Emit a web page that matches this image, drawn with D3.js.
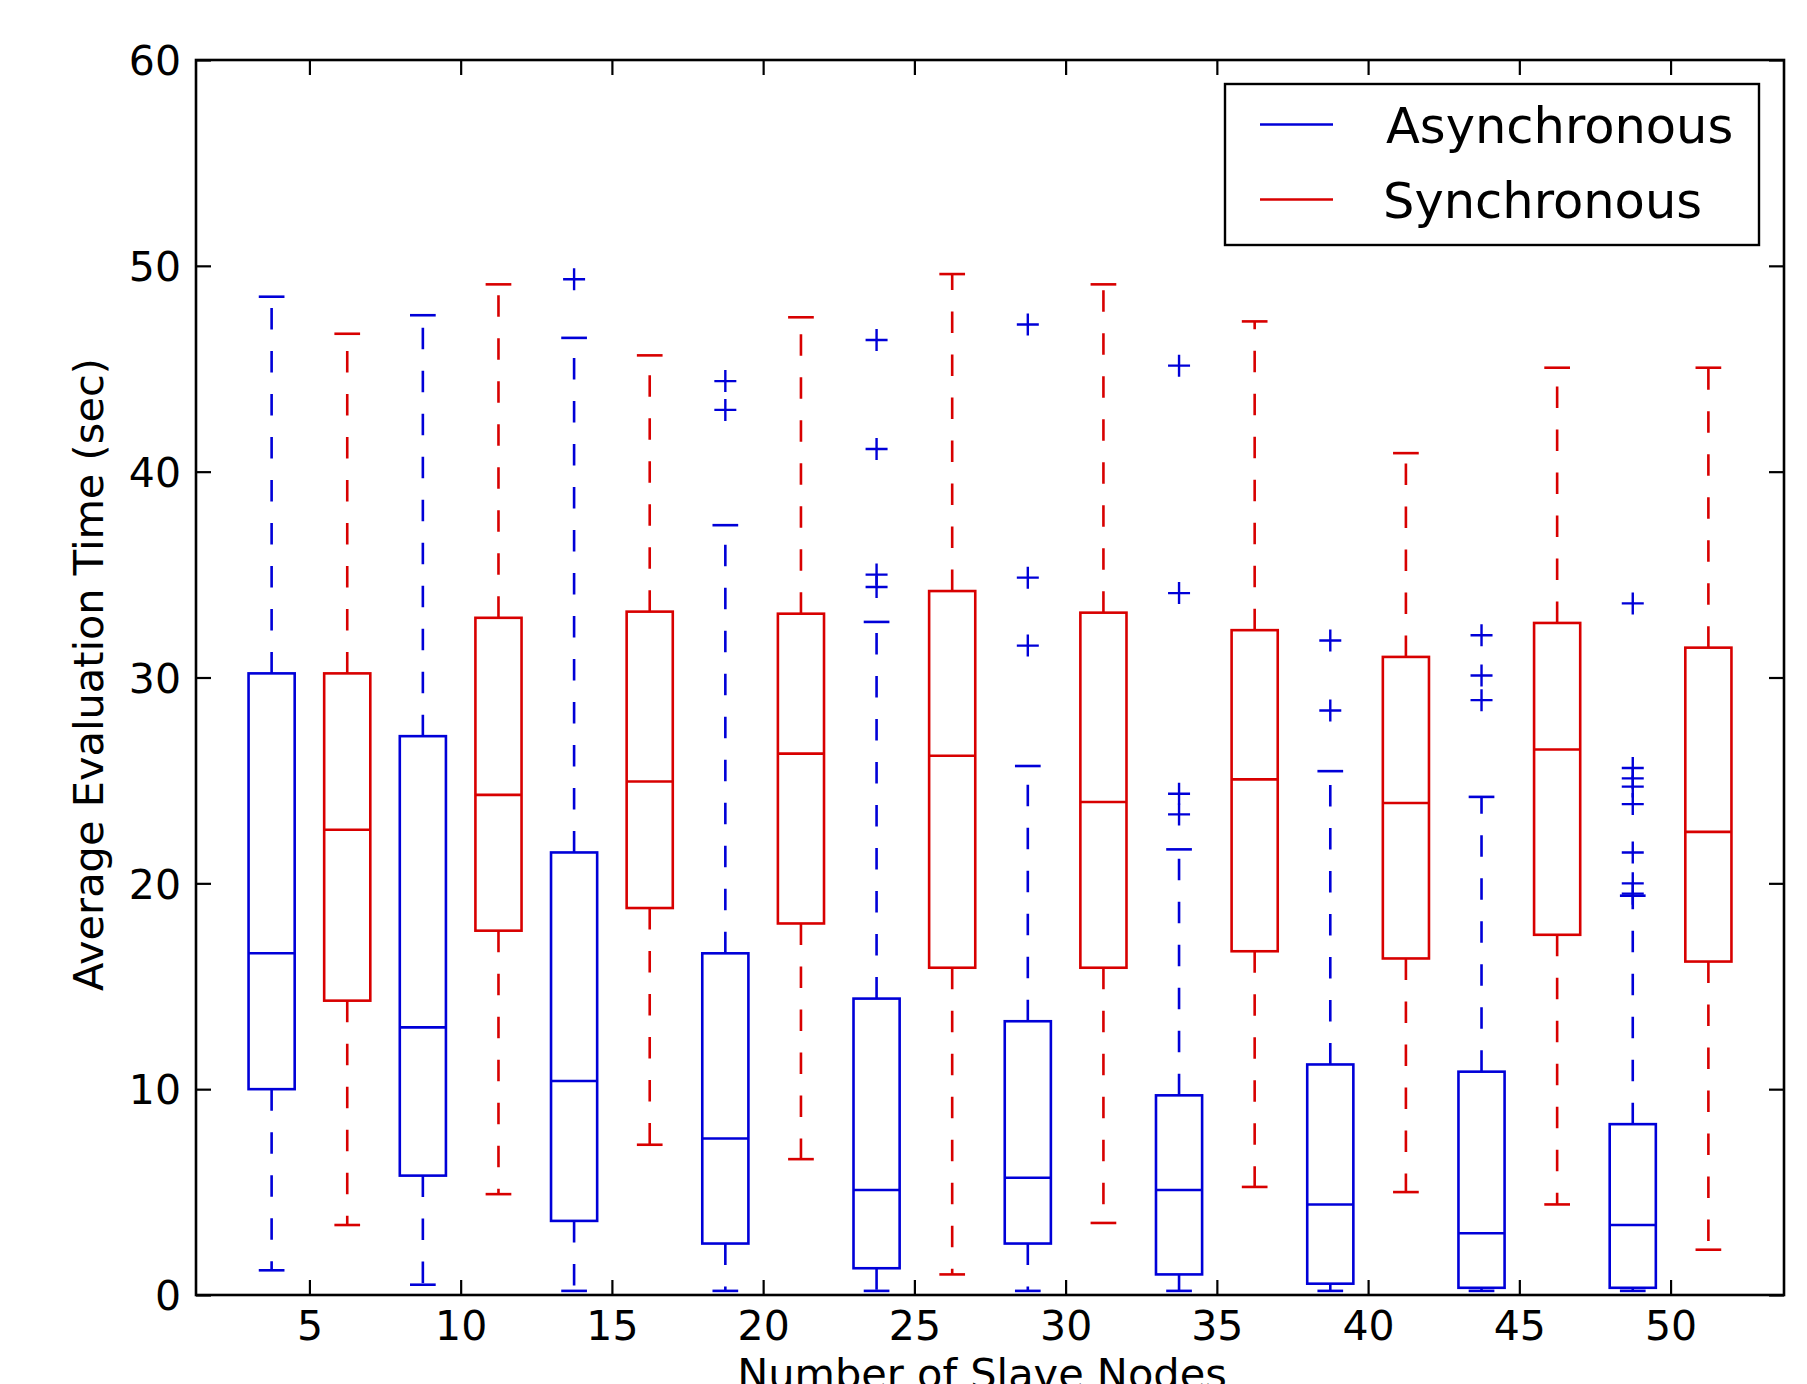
<!DOCTYPE html>
<html>
<head>
<meta charset="utf-8">
<script src="https://cdn.jsdelivr.net/npm/d3@7"></script>
<style>
  html, body { margin: 0; padding: 0; background: #ffffff; }
  svg { display: block; }
  text { font-family: "DejaVu Sans", sans-serif; fill: #000; }
</style>
</head>
<body>
<svg id="chart" width="1807" height="1384"></svg>
<script>
// ---------------- data ----------------
const nodes = [5, 10, 15, 20, 25, 30, 35, 40, 45, 50];
const yTicks = [0, 10, 20, 30, 40, 50, 60];
const seriesNames = ["Asynchronous", "Synchronous"];

const asyncLow  = [1.2, 0.5, 0.2, 0.2, 0.2, 0.2, 0.2, 0.2, 0.2, 0.2];
const asyncQ1   = [10.0, 5.8, 3.6, 2.5, 1.3, 2.5, 1.0, 0.55, 0.35, 0.35];
const asyncMed  = [16.6, 13.0, 10.4, 7.6, 5.1, 5.7, 5.1, 4.4, 3.0, 3.4];
const asyncQ3   = [30.2, 27.15, 21.5, 16.6, 14.4, 13.3, 9.7, 11.2, 10.85, 8.3];
const asyncHigh = [48.5, 47.6, 46.5, 37.4, 32.7, 25.7, 21.65, 25.45, 24.2, 19.4];
const asyncOut  = [
  [], [], [49.35], [44.4, 43.0], [46.4, 41.1, 35.0, 34.4],
  [47.15, 34.85, 31.55], [45.15, 34.1, 24.35, 23.35], [31.8, 28.4],
  [32.05, 30.1, 28.9], [33.6, 25.6, 25.1, 24.7, 23.85, 21.5, 20.0, 19.5]
];

const syncLow  = [3.4, 4.9, 7.3, 6.6, 1.0, 3.5, 5.25, 5.0, 4.4, 2.2];
const syncQ1   = [14.3, 17.7, 18.8, 18.05, 15.9, 15.9, 16.7, 16.35, 17.5, 16.2];
const syncMed  = [22.6, 24.3, 24.95, 26.3, 26.2, 23.95, 25.05, 23.9, 26.5, 22.5];
const syncQ3   = [30.2, 32.9, 33.2, 33.1, 34.2, 33.15, 32.3, 31.0, 32.65, 31.45];
const syncHigh = [46.7, 49.1, 45.65, 47.5, 49.6, 49.1, 47.3, 40.9, 45.05, 45.05];
const syncOut  = [[], [], [], [], [], [], [], [], [], []];

// ---------------- layout ----------------
const plot = { left: 196, right: 1784, top: 60, bottom: 1295 };
const BLUE = "#0000d8", RED = "#d80000";
const lw = 2.6;
const boxW = 0.61, capW = 0.34;
const fontTick = 41, fontLabel = 41.5, fontLegend = 49.5;

const svg = d3.select("#chart");

const x = d3.scaleLinear().domain([0, 21]).range([plot.left, plot.right]);
const y = d3.scaleLinear().domain([0, 60]).range([plot.bottom, plot.top]);

// build box records
const boxes = [];
nodes.forEach((n, i) => {
  boxes.push({ pos: 2 * i + 1, color: BLUE, lo: asyncLow[i], q1: asyncQ1[i], med: asyncMed[i], q3: asyncQ3[i], hi: asyncHigh[i], out: asyncOut[i] });
  boxes.push({ pos: 2 * i + 2, color: RED, lo: syncLow[i], q1: syncQ1[i], med: syncMed[i], q3: syncQ3[i], hi: syncHigh[i], out: syncOut[i] });
});

const g = svg.append("g");
const bg = g.selectAll("g.box").data(boxes).enter().append("g").attr("class", "box");

// whiskers (dashed, starting at box edge)
bg.append("line")
  .attr("x1", d => x(d.pos)).attr("x2", d => x(d.pos))
  .attr("y1", d => y(d.q3)).attr("y2", d => y(d.hi))
  .attr("stroke", d => d.color).attr("stroke-width", lw)
  .attr("stroke-dasharray", "21.5,21.5");
bg.append("line")
  .attr("x1", d => x(d.pos)).attr("x2", d => x(d.pos))
  .attr("y1", d => y(d.q1)).attr("y2", d => y(d.lo))
  .attr("stroke", d => d.color).attr("stroke-width", lw)
  .attr("stroke-dasharray", "21.5,21.5");
// caps
bg.append("line")
  .attr("x1", d => x(d.pos - capW / 2)).attr("x2", d => x(d.pos + capW / 2))
  .attr("y1", d => y(d.hi)).attr("y2", d => y(d.hi))
  .attr("stroke", d => d.color).attr("stroke-width", lw);
bg.append("line")
  .attr("x1", d => x(d.pos - capW / 2)).attr("x2", d => x(d.pos + capW / 2))
  .attr("y1", d => y(d.lo)).attr("y2", d => y(d.lo))
  .attr("stroke", d => d.color).attr("stroke-width", lw);
// box
bg.append("rect")
  .attr("x", d => x(d.pos - boxW / 2))
  .attr("width", d => x(d.pos + boxW / 2) - x(d.pos - boxW / 2))
  .attr("y", d => y(d.q3))
  .attr("height", d => y(d.q1) - y(d.q3))
  .attr("fill", "none").attr("stroke", d => d.color).attr("stroke-width", lw);
// median
bg.append("line")
  .attr("x1", d => x(d.pos - boxW / 2)).attr("x2", d => x(d.pos + boxW / 2))
  .attr("y1", d => y(d.med)).attr("y2", d => y(d.med))
  .attr("stroke", d => d.color).attr("stroke-width", lw);
// outliers "+"
const ms = 11;
bg.each(function (d) {
  d3.select(this).selectAll("path.flier").data(d.out).enter().append("path")
    .attr("class", "flier")
    .attr("d", v => `M${x(d.pos) - ms},${y(v)}H${x(d.pos) + ms}M${x(d.pos)},${y(v) - ms}V${y(v) + ms}`)
    .attr("stroke", d.color).attr("stroke-width", 2.4).attr("fill", "none");
});

// ---------------- axes ----------------
const tickLen = 15;
const xTickPos = nodes.map((n, i) => 2 * i + 1.5);

const xAxisBottom = d3.axisBottom(x).tickValues(xTickPos)
  .tickFormat((d, i) => nodes[i]).tickSizeInner(-tickLen).tickSizeOuter(0).tickPadding(29);
const gxb = svg.append("g").attr("transform", `translate(0,${plot.bottom})`).call(xAxisBottom);
const xAxisTop = d3.axisTop(x).tickValues(xTickPos).tickFormat("").tickSizeInner(-tickLen).tickSizeOuter(0);
const gxt = svg.append("g").attr("transform", `translate(0,${plot.top})`).call(xAxisTop);

const yAxisLeft = d3.axisLeft(y).tickValues(yTicks).tickFormat(d3.format("d"))
  .tickSizeInner(-tickLen).tickSizeOuter(0).tickPadding(15);
const gyl = svg.append("g").attr("transform", `translate(${plot.left},0)`).call(yAxisLeft);
const yAxisRight = d3.axisRight(y).tickValues(yTicks).tickFormat("").tickSizeInner(-tickLen).tickSizeOuter(0);
const gyr = svg.append("g").attr("transform", `translate(${plot.right},0)`).call(yAxisRight);

[gxb, gxt, gyl, gyr].forEach(a => {
  a.select(".domain").remove();
  a.selectAll(".tick line").attr("stroke", "#000").attr("stroke-width", 2.2);
  a.selectAll(".tick text").attr("font-size", fontTick).attr("font-family", "DejaVu Sans").attr("fill", "#000");
});
gxb.selectAll(".tick text").attr("dy", null).attr("dominant-baseline", "alphabetic").attr("y", 45);
gyl.selectAll(".tick text").attr("dy", "0.36em");

// frame
svg.append("rect")
  .attr("x", plot.left).attr("y", plot.top)
  .attr("width", plot.right - plot.left).attr("height", plot.bottom - plot.top)
  .attr("fill", "none").attr("stroke", "#000").attr("stroke-width", 2.6);

// axis labels
svg.append("text")
  .attr("x", (plot.left + plot.right) / 2 - 8).attr("y", 1388)
  .attr("text-anchor", "middle").attr("font-size", fontLabel)
  .text("Number of Slave Nodes");
svg.append("text")
  .attr("transform", `translate(103,${(plot.top + plot.bottom) / 2 - 3}) rotate(-90)`)
  .attr("text-anchor", "middle").attr("font-size", fontLabel)
  .text("Average Evaluation Time (sec)");

// ---------------- legend ----------------
const leg = { x: 1225, y: 84, w: 534, h: 161 };
svg.append("rect").attr("x", leg.x).attr("y", leg.y).attr("width", leg.w).attr("height", leg.h)
  .attr("fill", "#fff").attr("stroke", "#000").attr("stroke-width", 2.4);
const legColors = [BLUE, RED];
const legY = [124.5, 199.5];
seriesNames.forEach((name, i) => {
  svg.append("line").attr("x1", 1260).attr("x2", 1333).attr("y1", legY[i]).attr("y2", legY[i])
    .attr("stroke", legColors[i]).attr("stroke-width", lw);
  svg.append("text").attr("x", i === 0 ? 1386 : 1383).attr("y", legY[i] + 18).attr("font-size", fontLegend).text(name);
});
</script>
</body>
</html>
